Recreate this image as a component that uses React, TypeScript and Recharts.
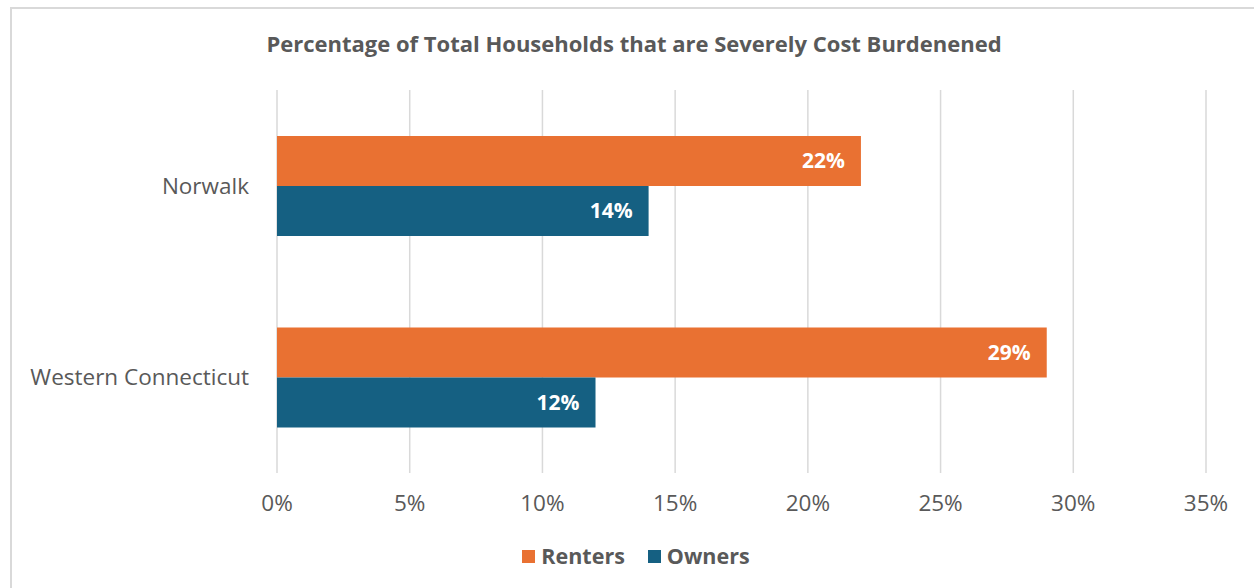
import React from "react";
import {
  BarChart,
  Bar,
  XAxis,
  YAxis,
  CartesianGrid,
  LabelList,
} from "recharts";

const regions = ["Norwalk", "Western Connecticut"];
const renters = [22, 29];
const owners = [14, 12];
const xTicks = [0, 5, 10, 15, 20, 25, 30, 35];

const data = regions.map((name, i) => ({
  name,
  renters: renters[i],
  owners: owners[i],
}));

const FONT = "'Open Sans', sans-serif";
const GRAY = "#595959";
const ORANGE = "#E97132";
const BLUE = "#156082";

const pct = (v: number) => `${v}%`;

const App = () => {
  return (
    <div
      style={{
        position: "absolute",
        left: 0,
        top: 0,
        width: 1254,
        height: 588,
        overflow: "hidden",
        background: "#fff",
        fontFamily: FONT,
      }}
    >
      <div
        style={{
          position: "absolute",
          left: 10,
          top: 7,
          width: 1260,
          height: 600,
          border: "2px solid #d9d9d9",
        }}
      />
      <div
        style={{
          position: "absolute",
          left: 10,
          width: 1248,
          top: 28,
          textAlign: "center",
          fontSize: 22,
          fontWeight: 700,
          color: GRAY,
          lineHeight: "30px",
        }}
      >
        Percentage of Total Households that are Severely Cost Burdenened
      </div>
      <div style={{ position: "absolute", left: 0, top: 0 }}>
        <BarChart
          width={1254}
          height={588}
          data={data}
          layout="vertical"
          barGap={0}
          barSize={50}
          margin={{ top: 90, right: 48, left: 0, bottom: 55 }}
        >
          <CartesianGrid
            horizontal={false}
            stroke="#d9d9d9"
            strokeWidth={1.5}
          />
          <XAxis
            type="number"
            domain={[0, 35]}
            ticks={xTicks}
            tickFormatter={pct}
            axisLine={false}
            tickLine={false}
            tickSize={0}
            tickMargin={22}
            height={60}
            tick={{ fill: GRAY, fontSize: 22.5, fontFamily: FONT }}
          />
          <YAxis
            type="category"
            dataKey="name"
            width={277}
            axisLine={false}
            tickLine={false}
            tickSize={0}
            tickMargin={28}
            tick={{ fill: GRAY, fontSize: 22.5, fontFamily: FONT }}
          />
          <Bar dataKey="renters" fill={ORANGE} isAnimationActive={false}>
            <LabelList
              dataKey="renters"
              position="insideRight"
              offset={16}
              formatter={(v: any) => pct(v)}
              fill="#fff"
              style={{ fontSize: 21, fontWeight: 700, fontFamily: FONT }}
            />
          </Bar>
          <Bar dataKey="owners" fill={BLUE} isAnimationActive={false}>
            <LabelList
              dataKey="owners"
              position="insideRight"
              offset={16}
              formatter={(v: any) => pct(v)}
              fill="#fff"
              style={{ fontSize: 21, fontWeight: 700, fontFamily: FONT }}
            />
          </Bar>
        </BarChart>
      </div>
      <div
        style={{
          position: "absolute",
          left: 12,
          width: 1248,
          top: 542,
          display: "flex",
          justifyContent: "center",
          alignItems: "center",
          gap: 23,
          fontSize: 21.5,
          fontWeight: 700,
          color: GRAY,
          lineHeight: "28px",
        }}
      >
        {[
          { label: "Renters", color: ORANGE },
          { label: "Owners", color: BLUE },
        ].map((item) => (
          <div
            key={item.label}
            style={{ display: "flex", alignItems: "center", gap: 6 }}
          >
            <span
              style={{
                display: "inline-block",
                width: 13,
                height: 13,
                background: item.color,
              }}
            />
            <span>{item.label}</span>
          </div>
        ))}
      </div>
    </div>
  );
};

export default App;
